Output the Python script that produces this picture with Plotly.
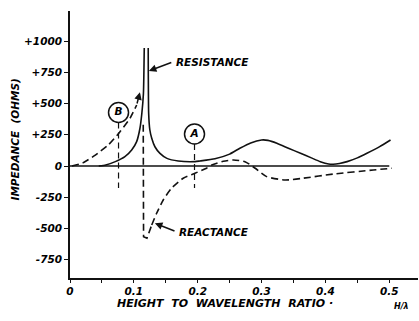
import plotly.graph_objects as go

# Antenna base impedance vs. height-to-wavelength ratio
ratio_res_left = [0.045, 0.056, 0.071, 0.086, 0.0966, 0.1044, 0.1095, 0.1125, 0.1150, 0.1163]
resistance_left = [0, 8, 35, 75, 128, 195, 300, 420, 580, 944]

ratio_res_right = [0.1225, 0.1232, 0.1250, 0.1280, 0.1330, 0.1409, 0.1518, 0.1695, 0.196,
                   0.2035, 0.227, 0.250, 0.266, 0.283, 0.300, 0.310, 0.324, 0.343, 0.361,
                   0.378, 0.392, 0.405, 0.412, 0.422, 0.434, 0.450, 0.465, 0.485, 0.502]
resistance_right = [944, 420, 290, 222, 154, 101, 61, 40, 35,
                    40, 58, 95, 142, 185, 208, 205, 182, 140, 102,
                    65, 35, 16, 14, 20, 35, 65, 102, 155, 208]

ratio_react_pos = [0.003, 0.020, 0.039, 0.060, 0.078, 0.094, 0.1044]
reactance_pos = [0, 25, 85, 168, 272, 382, 488]

# reactance just past resonance: sharp drop to the negative minimum
ratio_react_drop = [0.1147, 0.1152, 0.1205, 0.128]
reactance_drop = [330, -565, -578, -472]

ratio_react_neg = [0.128, 0.1357, 0.146, 0.159, 0.1773, 0.1956,
                   0.2139, 0.222, 0.240, 0.256, 0.274, 0.290, 0.308, 0.337, 0.365,
                   0.413, 0.475, 0.504]
reactance_neg = [-472, -378, -272, -178, -98, -58,
                 -18, 8, 38, 48, 35, -18, -85, -112, -98,
                 -64, -32, -18]

# reference heights marked B and A
ref_ratio = [0.076, 0.195]
ref_level = [428, 256]
ref_label = ["B", "A"]
ref_bottom = -176

x_ticks = [0, 0.05, 0.1, 0.15, 0.2, 0.25, 0.3, 0.35, 0.4, 0.45, 0.5]
x_ticktext = ["0", "", "0.1", "", "0.2", "", "0.3", "", "0.4", "", "0.5"]
y_ticks = [-750, -500, -250, 0, 250, 500, 750, 1000]
y_ticktext = ["-750", "-500", "-250", "0", "+250", "+500", "+750", "+1000"]

FONT = dict(family="DejaVu Sans", size=10.5, color="black", weight="bold", style="italic")
TITLE = dict(family="DejaVu Sans", size=11, color="black", weight="bold", style="italic")
SMALL = dict(family="DejaVu Sans", size=8, color="black", weight="bold", style="italic")
INK = "#111111"

fig = go.Figure()

# resistance (solid), drawn as two branches around the resonance
fig.add_trace(go.Scatter(x=ratio_res_left, y=resistance_left, mode="lines",
                         line=dict(color=INK, width=1.6, shape="spline", smoothing=0.5)))
fig.add_trace(go.Scatter(x=ratio_res_right, y=resistance_right, mode="lines",
                         line=dict(color=INK, width=1.6, shape="spline", smoothing=0.5)))

# reactance (dashed)
DASH = "7px,4px"
fig.add_trace(go.Scatter(x=ratio_react_pos, y=reactance_pos, mode="lines",
                         line=dict(color=INK, width=1.6, dash=DASH, shape="spline", smoothing=0.5)))
fig.add_trace(go.Scatter(x=ratio_react_drop, y=reactance_drop, mode="lines",
                         line=dict(color=INK, width=1.6, dash=DASH)))
fig.add_trace(go.Scatter(x=ratio_react_neg, y=reactance_neg, mode="lines",
                         line=dict(color=INK, width=1.6, dash=DASH, shape="spline", smoothing=0.6)))

# vertical dashed markers under the circled letters
for rx, lv in zip(ref_ratio, ref_level):
    fig.add_trace(go.Scatter(x=[rx, rx], y=[lv - 80, ref_bottom], mode="lines",
                             line=dict(color=INK, width=1.2, dash="6px,4px")))

fig.add_trace(go.Scatter(x=ref_ratio, y=ref_level, mode="markers+text", text=ref_label,
                         textposition="middle center", textfont=FONT,
                         marker=dict(symbol="circle-open", size=20, color=INK,
                                     line=dict(width=1.5, color=INK))))

# zero reference line
fig.add_shape(type="line", xref="x", yref="y", x0=0, x1=0.5, y0=0, y1=0,
              line=dict(color=INK, width=1.6))

# curve labels with pointer arrows
fig.add_annotation(x=0.1235, y=760, ax=0.161, ay=832, axref="x", ayref="y", text="",
                   showarrow=True, arrowhead=2, arrowsize=1, arrowwidth=1.5, arrowcolor=INK)
fig.add_annotation(x=0.163, y=832, xref="x", yref="y", text="RESISTANCE", showarrow=False,
                   xanchor="left", yanchor="middle", font=FONT)

fig.add_annotation(x=0.133, y=-458, ax=0.166, ay=-525, axref="x", ayref="y", text="",
                   showarrow=True, arrowhead=2, arrowsize=1, arrowwidth=1.5, arrowcolor=INK)
fig.add_annotation(x=0.168, y=-525, xref="x", yref="y", text="REACTANCE", showarrow=False,
                   xanchor="left", yanchor="middle", font=FONT)

# reactance rising toward +infinity
fig.add_annotation(x=0.1095, y=590, ax=0.1044, ay=488, axref="x", ayref="y", text="",
                   showarrow=True, arrowhead=2, arrowsize=1, arrowwidth=1.5, arrowcolor=INK)

# axis titles
fig.add_annotation(x=-0.18, y=0.52, xref="paper", yref="paper", text="IMPEDANCE  (OHMS)",
                   textangle=-90, showarrow=False, font=FONT)
fig.add_annotation(x=0.13, y=-0.094, xref="paper", yref="paper",
                   text="HEIGHT  TO  WAVELENGTH  RATIO \u00b7", showarrow=False,
                   xanchor="left", yanchor="middle", font=TITLE)
fig.add_annotation(x=0.925, y=-0.105, xref="paper", yref="paper",
                   text="H/\u03bb", showarrow=False,
                   xanchor="left", yanchor="middle", font=SMALL)

fig.update_layout(
    width=419, height=321,
    margin=dict(l=70, r=1, t=11, b=43),
    paper_bgcolor="white", plot_bgcolor="white",
    showlegend=False,
    xaxis=dict(range=[0, 0.545], tickvals=x_ticks, ticktext=x_ticktext,
               ticks="outside", ticklen=3, tickwidth=1, tickcolor=INK,
               showline=True, linecolor=INK, linewidth=1.6, showgrid=False,
               zeroline=False, tickfont=FONT),
    yaxis=dict(range=[-896, 1240], tickvals=y_ticks, ticktext=y_ticktext,
               ticks="outside", ticklen=4, tickwidth=1, tickcolor=INK,
               showline=True, linecolor=INK, linewidth=1.6, showgrid=False,
               zeroline=False, tickfont=FONT),
)

fig.write_html("out.html")
